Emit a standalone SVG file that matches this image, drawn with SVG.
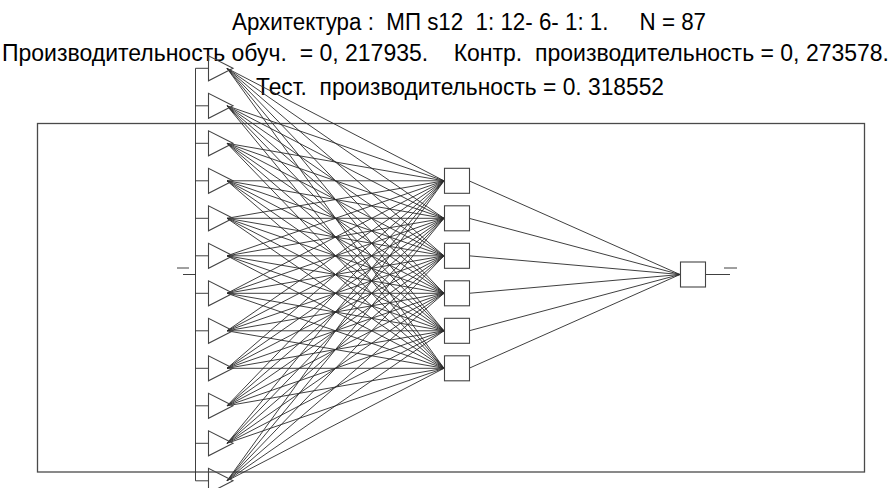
<svg xmlns="http://www.w3.org/2000/svg" width="893" height="488" viewBox="0 0 893 488">
<style>
.t{font-family:"Liberation Sans",Arial,sans-serif;font-size:23px;fill:#000}
.ln{stroke:#2a2a2a;stroke-width:0.9;fill:none}
.fr{stroke:#4a4a4a;stroke-width:1.3;fill:none}
.nd{stroke:#444;stroke-width:1.1;fill:#fff}
.tri{stroke:#444;stroke-width:1.1;fill:none}
</style>
<rect width="893" height="488" fill="#fff"/>
<rect class="fr" x="37.5" y="123.5" width="827" height="348.5"/>
<g id="title">
<text class="t" x="232" y="30" textLength="474" lengthAdjust="spacingAndGlyphs" xml:space="preserve">Архитектура :  МП s12  1: 12- 6- 1: 1.     N = 87</text>
<text class="t" x="2" y="61" textLength="887" lengthAdjust="spacingAndGlyphs" xml:space="preserve">Производительность обуч.  = 0, 217935.    Контр.  производительность = 0, 273578.</text>
<text class="t" x="256" y="95" textLength="408" lengthAdjust="spacingAndGlyphs" xml:space="preserve">Тест.  производительность = 0. 318552</text>
</g>
<g id="connectors">
<path class="ln" d="M183 274.5H195.5M177 268H189"/>
<path class="ln" d="M195.5 68.3V480.8M195.5 68.3H208.5M195.5 105.8H208.5M195.5 143.3H208.5M195.5 180.8H208.5M195.5 218.3H208.5M195.5 255.8H208.5M195.5 293.3H208.5M195.5 330.8H208.5M195.5 368.3H208.5M195.5 405.8H208.5M195.5 443.3H208.5M195.5 480.8H208.5"/>
<path class="ln" d="M227 68.3L444 180.8M227 68.3L444 218.3M227 68.3L444 255.8M227 68.3L444 293.3M227 68.3L444 330.8M227 68.3L444 368.3"/>
<path class="ln" d="M227 105.8L444 180.8M227 105.8L444 218.3M227 105.8L444 255.8M227 105.8L444 293.3M227 105.8L444 330.8M227 105.8L444 368.3"/>
<path class="ln" d="M227 143.3L444 180.8M227 143.3L444 218.3M227 143.3L444 255.8M227 143.3L444 293.3M227 143.3L444 330.8M227 143.3L444 368.3"/>
<path class="ln" d="M227 180.8L444 180.8M227 180.8L444 218.3M227 180.8L444 255.8M227 180.8L444 293.3M227 180.8L444 330.8M227 180.8L444 368.3"/>
<path class="ln" d="M227 218.3L444 180.8M227 218.3L444 218.3M227 218.3L444 255.8M227 218.3L444 293.3M227 218.3L444 330.8M227 218.3L444 368.3"/>
<path class="ln" d="M227 255.8L444 180.8M227 255.8L444 218.3M227 255.8L444 255.8M227 255.8L444 293.3M227 255.8L444 330.8M227 255.8L444 368.3"/>
<path class="ln" d="M227 293.3L444 180.8M227 293.3L444 218.3M227 293.3L444 255.8M227 293.3L444 293.3M227 293.3L444 330.8M227 293.3L444 368.3"/>
<path class="ln" d="M227 330.8L444 180.8M227 330.8L444 218.3M227 330.8L444 255.8M227 330.8L444 293.3M227 330.8L444 330.8M227 330.8L444 368.3"/>
<path class="ln" d="M227 368.3L444 180.8M227 368.3L444 218.3M227 368.3L444 255.8M227 368.3L444 293.3M227 368.3L444 330.8M227 368.3L444 368.3"/>
<path class="ln" d="M227 405.8L444 180.8M227 405.8L444 218.3M227 405.8L444 255.8M227 405.8L444 293.3M227 405.8L444 330.8M227 405.8L444 368.3"/>
<path class="ln" d="M227 443.3L444 180.8M227 443.3L444 218.3M227 443.3L444 255.8M227 443.3L444 293.3M227 443.3L444 330.8M227 443.3L444 368.3"/>
<path class="ln" d="M227 480.8L444 180.8M227 480.8L444 218.3M227 480.8L444 255.8M227 480.8L444 293.3M227 480.8L444 330.8M227 480.8L444 368.3"/>
<path class="ln" d="M469 180.8L680 274.5M469 218.3L680 274.5M469 255.8L680 274.5M469 293.3L680 274.5M469 330.8L680 274.5M469 368.3L680 274.5"/>
<path class="ln" d="M705 274.5H730M724 268H737"/>
</g>
<g id="in1"><polygon class="tri" points="208.5,55.8 208.5,80.8 233,68.3"/></g>
<g id="in2"><polygon class="tri" points="208.5,93.3 208.5,118.3 233,105.8"/></g>
<g id="in3"><polygon class="tri" points="208.5,130.8 208.5,155.8 233,143.3"/></g>
<g id="in4"><polygon class="tri" points="208.5,168.3 208.5,193.3 233,180.8"/></g>
<g id="in5"><polygon class="tri" points="208.5,205.8 208.5,230.8 233,218.3"/></g>
<g id="in6"><polygon class="tri" points="208.5,243.3 208.5,268.3 233,255.8"/></g>
<g id="in7"><polygon class="tri" points="208.5,280.8 208.5,305.8 233,293.3"/></g>
<g id="in8"><polygon class="tri" points="208.5,318.3 208.5,343.3 233,330.8"/></g>
<g id="in9"><polygon class="tri" points="208.5,355.8 208.5,380.8 233,368.3"/></g>
<g id="in10"><polygon class="tri" points="208.5,393.3 208.5,418.3 233,405.8"/></g>
<g id="in11"><polygon class="tri" points="208.5,430.8 208.5,455.8 233,443.3"/></g>
<g id="in12"><polygon class="tri" points="208.5,468.3 208.5,493.3 233,480.8"/></g>
<g id="h1"><rect class="nd" x="444.5" y="168.3" width="25" height="25"/></g>
<g id="h2"><rect class="nd" x="444.5" y="205.8" width="25" height="25"/></g>
<g id="h3"><rect class="nd" x="444.5" y="243.3" width="25" height="25"/></g>
<g id="h4"><rect class="nd" x="444.5" y="280.8" width="25" height="25"/></g>
<g id="h5"><rect class="nd" x="444.5" y="318.3" width="25" height="25"/></g>
<g id="h6"><rect class="nd" x="444.5" y="355.8" width="25" height="25"/></g>
<g id="out"><rect class="nd" x="680.5" y="262" width="25" height="25"/></g>
</svg>
